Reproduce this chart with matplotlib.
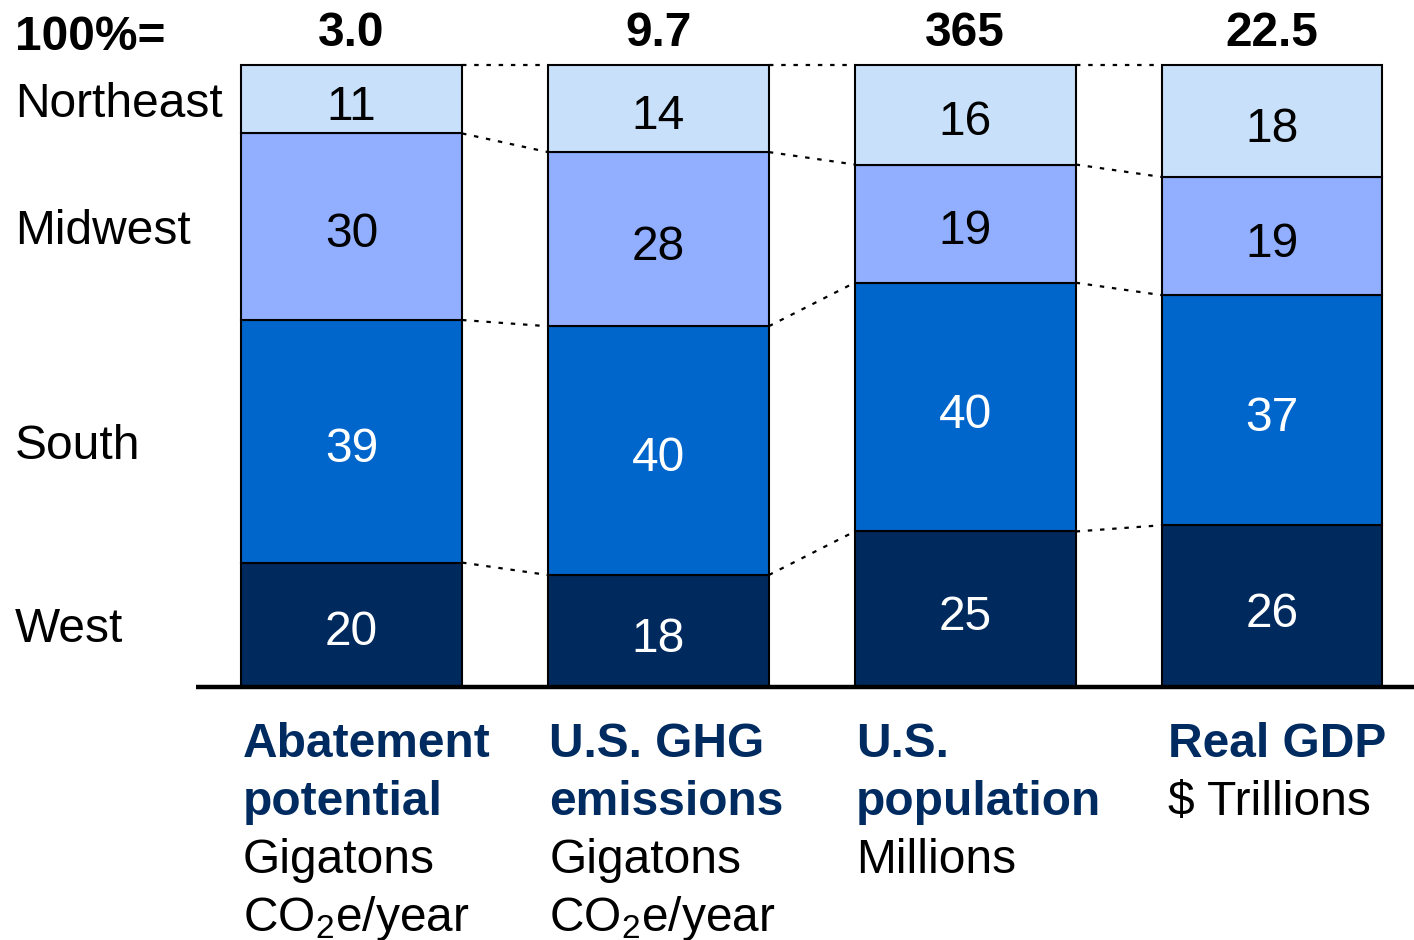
import matplotlib.pyplot as plt
import numpy as np

plt.rcParams['font.family'] = ['Liberation Sans', 'DejaVu Sans']
plt.rcParams['mathtext.fontset'] = 'custom'
plt.rcParams['mathtext.rm'] = 'Liberation Sans'
plt.rcParams['mathtext.it'] = 'Liberation Sans'

# regions, bottom to top of each stack
regions = ['West', 'South', 'Midwest', 'Northeast']
west = [20, 18, 25, 26]
south = [39, 40, 40, 37]
midwest = [30, 28, 19, 19]
northeast = [11, 14, 16, 18]
totals = ['3.0', '9.7', '365', '22.5']
titles = [['Abatement', 'potential'], ['U.S. GHG', 'emissions'],
          ['U.S.', 'population'], ['Real GDP']]
units = [['Gigatons', 'CO$_2$e/year'], ['Gigatons', 'CO$_2$e/year'],
         ['Millions'], ['\\$ Trillions']]

colors = ['#00295E', '#0066CC', '#91AEFF', '#C8E0FA']
txtcol = ['white', 'white', 'black', 'black']
navy = '#002B60'
fs = 34.5

fig = plt.figure(figsize=(14.14, 9.4), dpi=100)
ax = fig.add_axes([0, 0, 1, 1])
# 1 x-unit ~ 307 px, 1 y-unit ~ 6.22 px
ax.set_xlim(-1.146, 3.463)
ax.set_ylim(-40.68, 110.45)
ax.axis('off')

x = np.arange(len(totals))
w = 0.72
stack = np.array([west, south, midwest, northeast])
bottoms = np.vstack([np.zeros(len(x)), np.cumsum(stack, axis=0)[:-1]])

for k in range(len(regions)):
    ax.bar(x, stack[k], w, bottom=bottoms[k], color=colors[k],
           edgecolor='black', linewidth=1.5, zorder=2)
    for i in range(len(x)):
        ax.text(x[i], bottoms[k][i] + stack[k][i] / 2 - 0.5, str(stack[k][i]),
                ha='center', va='center_baseline', fontsize=fs,
                color=txtcol[k], zorder=3)
    # region names next to the first stack
    ax.text(-1.097, bottoms[k][0] + stack[k][0] / 2, regions[k],
            ha='left', va='center_baseline', fontsize=fs, color='black')

# dotted connectors between neighbouring stacks
tops = np.cumsum(stack, axis=0)
for k in range(len(regions)):
    for i in range(len(x) - 1):
        ax.plot([x[i] + w / 2, x[i + 1] - w / 2], [tops[k][i], tops[k][i + 1]],
                color='black', linewidth=1.6, linestyle=(0, (2, 3.5)), zorder=1)

# baseline
ax.plot([-0.508, 3.463], [0, 0], color='black', linewidth=3.2,
        solid_capstyle='butt', zorder=4)

# totals row
ax.text(-1.097, 105.2, '100%=', ha='left', va='center_baseline', fontsize=fs,
        fontweight='bold')
for i in range(len(x)):
    ax.text(x[i], 105.8, totals[i], ha='center', va='center_baseline',
            fontsize=fs, fontweight='bold')

# category labels under the baseline
pitch = 9.3
for i in range(len(x)):
    xl = x[i] - w / 2 + (0.02 if i == 3 else 0.005)
    y = -11.3
    for line in titles[i]:
        ax.text(xl, y, line, ha='left', va='baseline', fontsize=fs,
                fontweight='bold', color=navy)
        y -= pitch
    for line in units[i]:
        ax.text(xl, y, line, ha='left', va='baseline', fontsize=fs,
                color='black')
        y -= pitch

fig.savefig('out.png', dpi=100)
